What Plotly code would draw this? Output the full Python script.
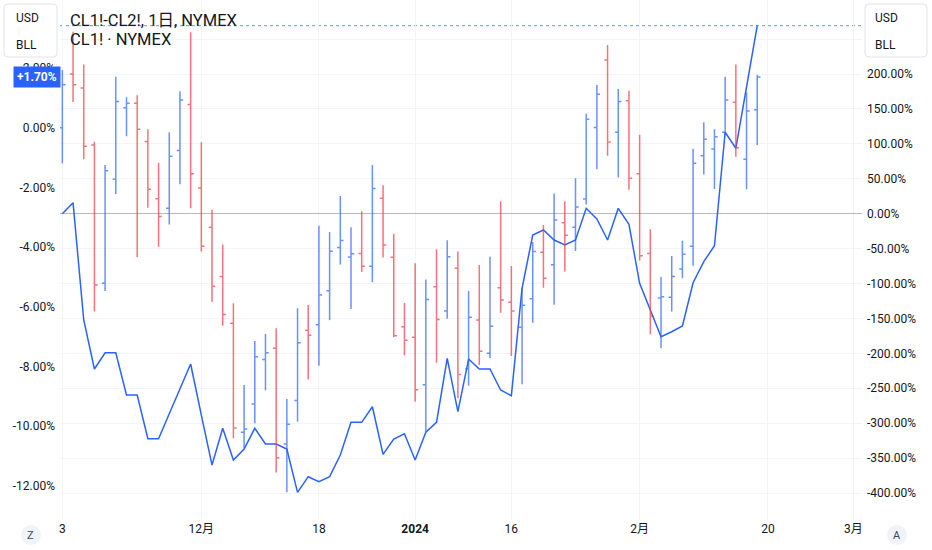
import plotly.graph_objects as go

# ---------------- data ----------------
dates = [
    "2023-11-13", "2023-11-14", "2023-11-15", "2023-11-16", "2023-11-17", "2023-11-20", "2023-11-21",
    "2023-11-22", "2023-11-24", "2023-11-27", "2023-11-28", "2023-11-29", "2023-11-30",
    "2023-12-01", "2023-12-04", "2023-12-05", "2023-12-06", "2023-12-07", "2023-12-08", "2023-12-11",
    "2023-12-12", "2023-12-13", "2023-12-14", "2023-12-15", "2023-12-18", "2023-12-19", "2023-12-20",
    "2023-12-21", "2023-12-22", "2023-12-26", "2023-12-27", "2023-12-28", "2023-12-29",
    "2024-01-02", "2024-01-03", "2024-01-04", "2024-01-05", "2024-01-08", "2024-01-09", "2024-01-10",
    "2024-01-11", "2024-01-12", "2024-01-16", "2024-01-17", "2024-01-18", "2024-01-19", "2024-01-22",
    "2024-01-23", "2024-01-24", "2024-01-25", "2024-01-26", "2024-01-29", "2024-01-30", "2024-01-31",
    "2024-02-01", "2024-02-02", "2024-02-05", "2024-02-06", "2024-02-07", "2024-02-08", "2024-02-09",
    "2024-02-12", "2024-02-13", "2024-02-14", "2024-02-15", "2024-02-16",
]

# CL1! (left axis, % change)
cl1_open = [0.00, 1.80, 1.33, -0.58, -5.21, -1.73, 0.67, 0.82, -0.46, -2.38,
            -2.70, -0.76, 0.78, -2.02, -3.33, -4.98, -6.55, -10.20, -9.25, -7.76,
            -7.39, -10.59, -9.14, -6.78, -6.60, -5.46, -4.01, -4.33, -4.21, -4.64,
            -2.36, -4.34, -6.67, -7.02, -8.61, -5.33, -6.14, -4.71, -8.07, -6.44,
            -7.55, -5.36, -5.85, -6.68, -5.73, -4.17, -4.59, -3.18, -3.33, -2.39,
            0.01, 2.27, -0.15, 0.90, -1.54, -4.21, -5.70, -5.68, -4.73, -3.97,
            -0.94, -0.71, -0.15, 0.85, -1.06, 0.60]
cl1_high = [1.93, 3.21, 2.12, -0.47, -1.25, 1.71, 1.02, 1.09, -0.05, -1.17,
            -0.15, 1.22, 3.20, -0.49, -2.75, -3.91, -5.88, -8.62, -7.14, -6.91,
            -6.72, -9.09, -6.05, -5.94, -3.28, -3.49, -2.29, -3.33, -2.80, -1.25,
            -1.93, -3.55, -5.87, -4.54, -5.08, -4.07, -3.77, -4.15, -5.47, -4.60,
            -4.32, -2.46, -4.63, -5.38, -3.83, -3.26, -2.20, -2.46, -1.69, 0.47,
            1.43, 2.77, 1.30, 1.24, -0.24, -3.40, -5.00, -4.30, -3.79, -0.71,
            0.18, -0.05, 1.71, 2.12, 1.19, 1.77]
cl1_low = [-1.19, 0.86, -1.06, -6.16, -5.47, -2.22, -0.29, -4.33, -2.68, -3.99,
           -3.24, -1.89, -2.70, -4.15, -5.83, -6.63, -10.40, -10.74, -9.90, -8.79,
           -11.55, -12.21, -9.85, -8.43, -7.97, -6.45, -4.58, -6.07, -4.83, -5.18,
           -4.35, -7.01, -7.62, -9.18, -10.18, -7.87, -6.40, -9.06, -8.64, -7.95,
           -7.72, -6.20, -7.65, -8.59, -6.53, -5.36, -5.93, -4.82, -4.13, -2.57,
           -1.39, -0.94, -1.67, -2.08, -4.45, -6.92, -7.39, -6.16, -5.04, -4.62,
           -1.57, -2.05, -0.24, -0.97, -2.06, -0.58]
cl1_close = [1.44, 1.44, -0.62, -5.27, -1.44, 0.88, 0.82, -0.05, -2.06, -2.97,
             -0.96, 0.93, -1.54, -3.97, -5.31, -6.26, -10.06, -10.09, -7.67, -7.54,
             -11.05, -9.93, -7.20, -6.95, -5.60, -4.14, -3.78, -4.22, -4.64, -2.04,
             -3.93, -6.97, -7.12, -8.78, -5.75, -6.42, -4.32, -8.27, -6.35, -7.49,
             -6.65, -5.77, -6.14, -5.95, -4.15, -5.04, -3.09, -3.60, -2.66, 0.28,
             1.12, -0.48, 0.88, -1.69, -4.29, -6.31, -5.66, -4.98, -4.24, -1.19,
             -0.39, -0.30, 0.93, -0.67, 0.56, 1.70]

# CL1!-CL2! spread (right axis, % change)
spread_pct = [0.0, 15.8, -152.2, -222.4, -199.1, -199.1, -259.6, -259.6, -322.2, -322.2,
              -286.4, -250.0, -215.2, -288.3, -359.9, -307.3, -352.7, -337.0, -307.3, -329.8,
              -329.8, -337.0, -399.0, -376.6, -383.8, -376.6, -345.6, -298.7, -298.7, -276.4,
              -344.6, -322.6, -315.1, -352.7, -313.0, -298.7, -207.1, -283.5, -208.1, -222.4,
              -222.4, -252.5, -260.6, -106.8, -30.5, -23.3, -37.7, -44.8, -37.7, 7.7,
              -7.6, -37.7, 7.7, -15.2, -99.7, -137.9, -176.1, -169.0, -160.8, -98.8,
              -68.7, -45.8, 116.6, 93.7, 180.0, 269.2]

# time-axis labels (trading-day index -> label)
tick_pos = [0, 13, 24, 33, 42, 54, 66, 74]
tick_text = ["3", "12月", "18", "<b>2024</b>", "16", "2月", "20", "3月"]

left_ticks = [2, 0, -2, -4, -6, -8, -10, -12]
right_ticks = [250, 200, 150, 100, 50, 0, -50, -100, -150, -200, -250, -300, -350, -400]

# ---------------- figure ----------------
FONT = "Roboto, 'Noto Sans CJK JP', sans-serif"
TXT = "#131722"
BLUE = "#2962FF"
idx = list(range(len(dates)))

fig = go.Figure()

fig.add_trace(go.Scatter(
    x=idx, y=spread_pct, mode="lines", yaxis="y",
    line=dict(color=BLUE, width=1.5), name="CL1!-CL2!",
    customdata=dates, hovertemplate="%{customdata}: %{y:.2f}%<extra></extra>",
))

fig.add_trace(go.Ohlc(
    x=idx, open=cl1_open, high=cl1_high, low=cl1_low, close=cl1_close,
    yaxis="y2", tickwidth=0.3, name="CL1!",
    increasing=dict(line=dict(color="rgba(41,98,255,0.7)", width=1.5)),
    decreasing=dict(line=dict(color="rgba(242,54,69,0.7)", width=1.5)),
))

PW, PH, ML, MT = 802, 520, 60, 0


def px(x):
    return (x - ML) / PW


def py(y):
    return 1 - (y - MT) / PH


def rrect(x0, y0, x1, y1, r=4):
    a, b, c, d = px(x0), py(y0), px(x1), py(y1)
    rx, ry = r / PW, r / PH
    return (f"M {a+rx},{b} L {c-rx},{b} Q {c},{b} {c},{b-ry} L {c},{d+ry} Q {c},{d} {c-rx},{d} "
            f"L {a+rx},{d} Q {a},{d} {a},{d+ry} L {a},{b-ry} Q {a},{b} {a+rx},{b} Z")


shapes = [
    dict(type="line", xref="paper", yref="y", x0=0, x1=1, y0=spread_pct[-1], y1=spread_pct[-1],
         line=dict(color="rgba(41,98,255,0.7)", width=1, dash="dot"), layer="below"),
    dict(type="path", xref="paper", yref="paper", path=rrect(4, 4, 57, 57),
         fillcolor="white", line=dict(color="#E0E3EB", width=1), layer="above"),
    dict(type="path", xref="paper", yref="paper", path=rrect(865, 4, 927, 57),
         fillcolor="white", line=dict(color="#E0E3EB", width=1), layer="above"),
    dict(type="circle", xref="paper", yref="paper", x0=px(21), x1=px(41), y0=py(525), y1=py(545),
         fillcolor="#F0F3FA", line=dict(width=0)),
    dict(type="circle", xref="paper", yref="paper", x0=px(887), x1=px(907), y0=py(525), y1=py(545),
         fillcolor="#F0F3FA", line=dict(width=0)),
]

annotations = [
    dict(text="CL1!-CL2!, 1日, NYMEX", x=px(68), y=py(21), xref="paper", yref="paper",
         xanchor="left", yanchor="middle", showarrow=False, font=dict(size=16.5, color=TXT, family=FONT)),
    dict(text="CL1! · NYMEX", x=px(68), y=py(40), xref="paper", yref="paper",
         xanchor="left", yanchor="middle", showarrow=False, font=dict(size=16.5, color=TXT, family=FONT)),
    dict(text="USD", x=px(14), y=py(18), xref="paper", yref="paper", xanchor="left", yanchor="middle",
         showarrow=False, font=dict(size=12, color=TXT, family=FONT)),
    dict(text="BLL", x=px(14), y=py(45), xref="paper", yref="paper", xanchor="left", yanchor="middle",
         showarrow=False, font=dict(size=12, color=TXT, family=FONT)),
    dict(text="USD", x=px(873), y=py(18), xref="paper", yref="paper", xanchor="left", yanchor="middle",
         showarrow=False, font=dict(size=12, color=TXT, family=FONT)),
    dict(text="BLL", x=px(873), y=py(45), xref="paper", yref="paper", xanchor="left", yanchor="middle",
         showarrow=False, font=dict(size=12, color=TXT, family=FONT)),
    dict(text="<b>+%.2f%%</b>" % cl1_close[-1], x=px(61), y=cl1_close[-1], xref="paper", yref="y2",
         xanchor="right", yanchor="middle", showarrow=False, bgcolor=BLUE, borderpad=3,
         font=dict(size=12, color="white", family=FONT)),
    dict(text="Z", x=px(31), y=py(535), xref="paper", yref="paper", showarrow=False,
         xanchor="center", yanchor="middle", font=dict(size=11, color="#434651", family=FONT)),
    dict(text="A", x=px(897), y=py(535), xref="paper", yref="paper", showarrow=False,
         xanchor="center", yanchor="middle", font=dict(size=11, color="#434651", family=FONT)),
]

fig.update_layout(
    width=932, height=550, autosize=False,
    margin=dict(l=ML, r=932 - ML - PW, t=MT, b=550 - PH),
    paper_bgcolor="white", plot_bgcolor="white",
    showlegend=False, font=dict(family=FONT, size=12, color=TXT),
    xaxis=dict(range=[-0.22, 74.8], tickmode="array", tickvals=tick_pos, ticktext=tick_text,
               showgrid=True, gridcolor="#F3F4F7", zeroline=False, showline=False, ticks="",
               rangeslider=dict(visible=False), tickfont=dict(size=12, color=TXT), fixedrange=True),
    yaxis=dict(side="right", range=[-438.6, 306.0], tickmode="array", tickvals=right_ticks,
               ticktext=["" if v > 200 else f"{v:.2f}%" for v in right_ticks],
               showgrid=True, gridcolor="#F3F4F7", zeroline=True, zerolinecolor="#B8BAC2",
               zerolinewidth=1, showline=False, ticks="", ticklabelstandoff=4,
               tickfont=dict(size=12, color=TXT)),
    yaxis2=dict(side="left", overlaying="y", range=[-13.139, 4.277], tickmode="array",
                tickvals=left_ticks, ticktext=[f"{v:.2f}%" for v in left_ticks],
                showgrid=False, zeroline=False, showline=False, ticks="", ticklabelstandoff=4,
                tickfont=dict(size=12, color=TXT)),
    shapes=shapes, annotations=annotations,
)

fig.write_html("out.html", config={"displayModeBar": False},
               post_script="document.body.style.margin='0';")
